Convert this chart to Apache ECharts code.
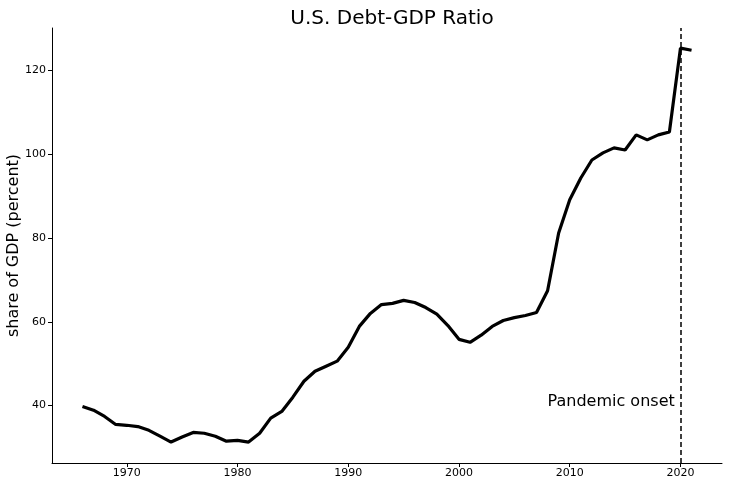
<!DOCTYPE html>
<html>
<head>
<meta charset="utf-8">
<script src="https://cdn.jsdelivr.net/npm/echarts@6/dist/echarts.min.js"></script>
<style>html,body{margin:0;padding:0;background:#fff;}#c{width:729px;height:487px;}</style>
</head>
<body>
<div id="c"></div>
<script>
const years = [1966,1967,1968,1969,1970,1971,1972,1973,1974,1975,1976,1977,1978,1979,1980,1981,1982,1983,1984,1985,1986,1987,1988,1989,1990,1991,1992,1993,1994,1995,1996,1997,1998,1999,2000,2001,2002,2003,2004,2005,2006,2007,2008,2009,2010,2011,2012,2013,2014,2015,2016,2017,2018,2019,2020,2021];
const debtRatio = [39.8,38.9,37.4,35.5,35.3,35.0,34.1,32.7,31.3,32.5,33.6,33.4,32.7,31.5,31.7,31.3,33.4,37.0,38.6,42.0,45.8,48.2,49.4,50.6,53.9,58.9,62.0,64.1,64.4,65.1,64.6,63.4,61.8,59.1,55.8,55.1,56.8,58.9,60.3,61.0,61.5,62.2,67.4,81.2,89.1,94.3,98.6,100.3,101.5,101.0,104.6,103.4,104.6,105.3,125.3,124.8];
const xTicks = [1970,1980,1990,2000,2010,2020];
const yTicks = [40,60,80,100,120];
const pandemicYear = 2020;
const annotation = {x: 2008, y: 40, text: 'Pandemic onset'};

const font = 'DejaVu Sans';
const chart = echarts.init(document.getElementById('c'));
chart.setOption({
  animation: false,
  backgroundColor: '#fff',
  title: {
    text: 'U.S. Debt-GDP Ratio',
    left: 387, top: 4, textAlign: 'center',
    textStyle: {fontFamily: font, fontSize: 20, fontWeight: 'normal', color: '#000'}
  },
  grid: {left: 52, right: 7, top: 28, bottom: 24, containLabel: false, outerBoundsMode: 'none'},
  xAxis: {
    type: 'value', min: 1963.25, max: 2023.75,
    axisLine: {show: true, lineStyle: {color: '#000', width: 1}},
    axisTick: {show: true, customValues: xTicks, length: 4, lineStyle: {color: '#000'}},
    axisLabel: {customValues: xTicks, formatter: v => String(v), fontFamily: font, fontSize: 11, color: '#000', margin: 5},
    splitLine: {show: false}
  },
  yAxis: {
    type: 'value', min: 26.3, max: 130.1,
    name: 'share of GDP (percent)', nameLocation: 'middle', nameGap: 30, nameMoveOverlap: false,
    nameTextStyle: {fontFamily: font, fontSize: 16, color: '#000'},
    axisLine: {show: true, lineStyle: {color: '#000', width: 1}},
    axisTick: {show: true, customValues: yTicks, length: 4, lineStyle: {color: '#000'}},
    axisLabel: {customValues: yTicks, formatter: v => String(v), fontFamily: font, fontSize: 11, color: '#000', margin: 6},
    splitLine: {show: false}
  },
  series: [{
    type: 'line',
    data: years.map((y, i) => [y, debtRatio[i]]),
    showSymbol: false, symbol: 'none',
    lineStyle: {color: '#000', width: 3.2},
    markLine: {
      silent: true, symbol: 'none',
      lineStyle: {color: '#000', type: [5, 3], width: 1.5},
      label: {show: false},
      data: [{xAxis: pandemicYear}]
    },
    markPoint: {
      silent: true,
      symbol: 'circle', symbolSize: 0,
      data: [{coord: [annotation.x, annotation.y]}],
      label: {
        show: true, formatter: annotation.text, position: [0, 0],
        align: 'left', verticalAlign: 'bottom', offset: [0, 4],
        fontFamily: font, fontSize: 16, color: '#000'
      }
    }
  }]
});
</script>
</body>
</html>
